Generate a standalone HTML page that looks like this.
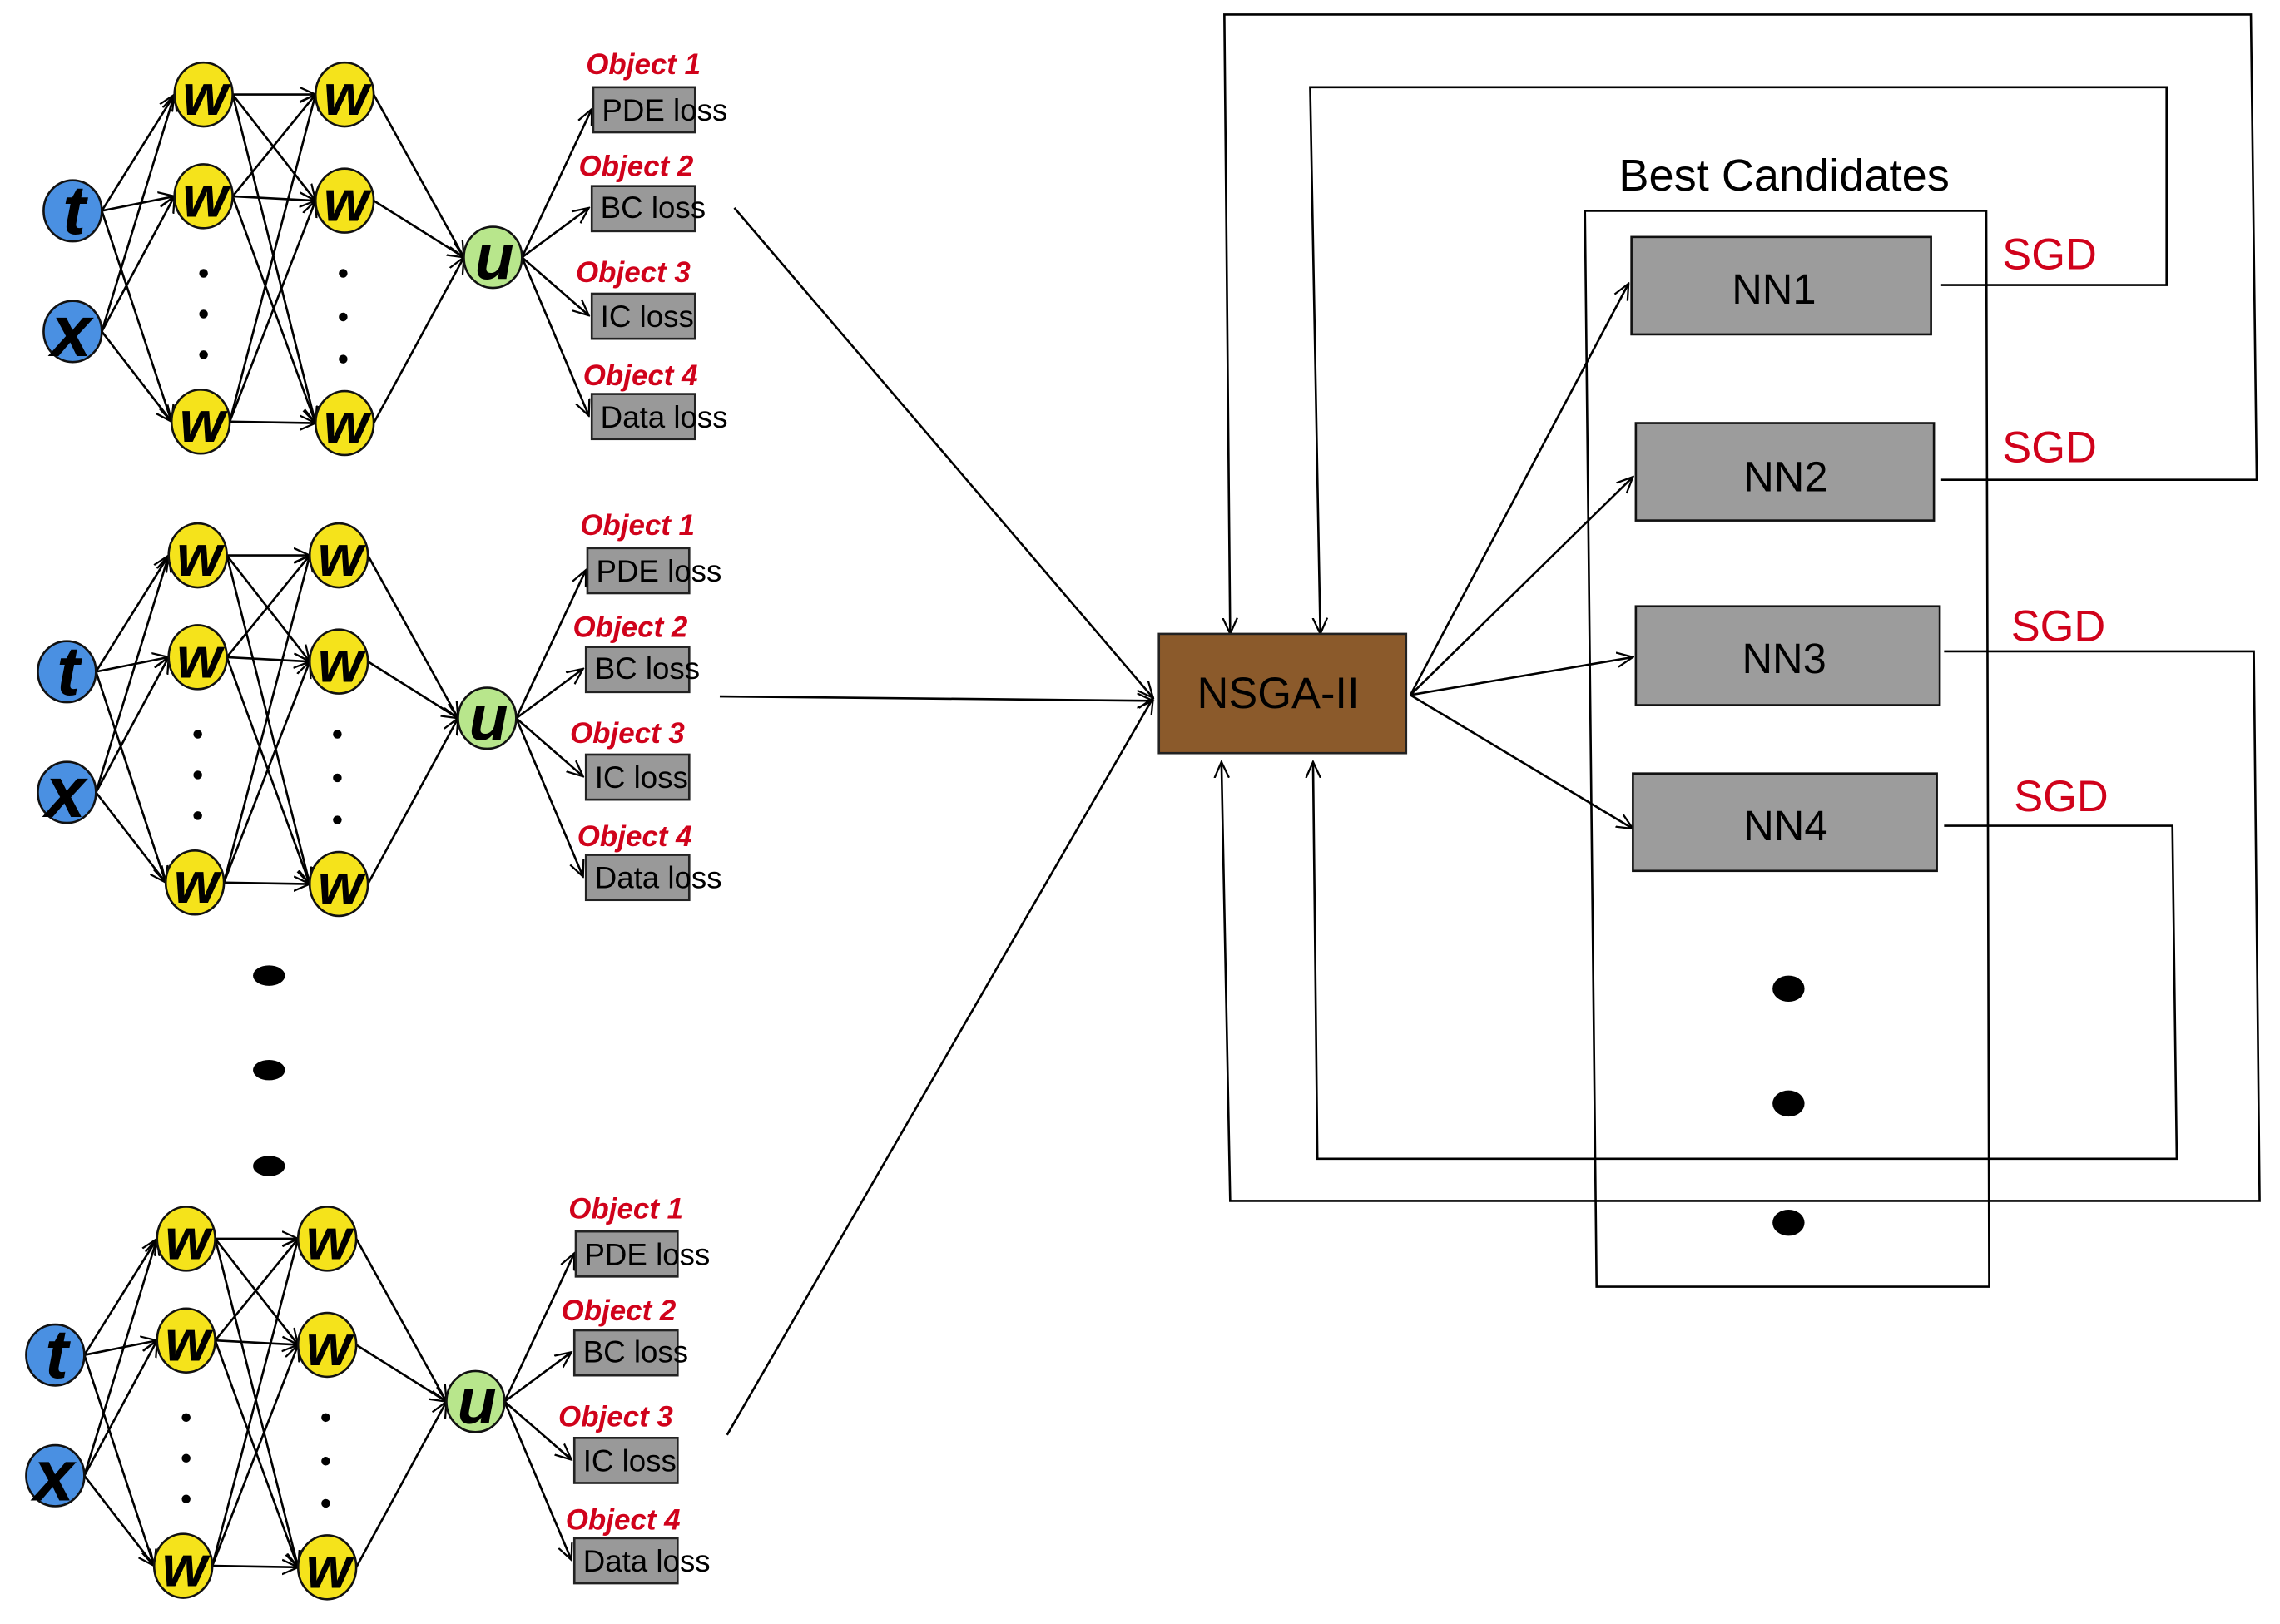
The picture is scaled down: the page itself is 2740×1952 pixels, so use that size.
<!DOCTYPE html>
<html><head><meta charset="utf-8"><style>html,body{margin:0;padding:0;background:#fff}svg{display:block}</style></head>
<body>
<svg width="2740" height="1952" viewBox="0 0 1568 1117" preserveAspectRatio="none" xmlns="http://www.w3.org/2000/svg" font-family="Liberation Sans, sans-serif">
<defs>
<marker id="a" viewBox="0 0 12 12" refX="11" refY="6" markerWidth="12" markerHeight="12" markerUnits="userSpaceOnUse" orient="auto"><path d="M0 1 L11 6 L0 11" fill="none" stroke="#000" stroke-width="1.3"/></marker>
</defs>
<g id="net1">
<g stroke="#000" stroke-width="1.5" fill="none" marker-end="url(#a)">
<path d="M70 145 L120 65"/><path d="M70 145 L120 135"/><path d="M70 145 L118 290"/>
<path d="M70 228 L120 65"/><path d="M70 228 L120 135"/><path d="M70 228 L118 290"/>
<path d="M160 65 L217 65"/><path d="M160 65 L217 138"/><path d="M160 65 L217 291"/>
<path d="M160 135 L217 65"/><path d="M160 135 L217 138"/><path d="M160 135 L217 291"/>
<path d="M158 290 L217 65"/><path d="M158 290 L217 138"/><path d="M158 290 L217 291"/>
<path d="M257 65 L319 177"/><path d="M257 138 L319 177"/><path d="M257 291 L319 177"/>
<path d="M359 177 L407 75"/><path d="M359 177 L405 143"/><path d="M359 177 L405 217"/><path d="M359 177 L405 286"/>
</g>
<g stroke="#111" stroke-width="1.5">
<ellipse cx="50" cy="145" rx="20" ry="21" fill="#4a90e2"/><ellipse cx="50" cy="228" rx="20" ry="21" fill="#4a90e2"/>
<ellipse cx="140" cy="65" rx="20" ry="22" fill="#f5e31b"/><ellipse cx="140" cy="135" rx="20" ry="22" fill="#f5e31b"/><ellipse cx="138" cy="290" rx="20" ry="22" fill="#f5e31b"/>
<ellipse cx="237" cy="65" rx="20" ry="22" fill="#f5e31b"/><ellipse cx="237" cy="138" rx="20" ry="22" fill="#f5e31b"/><ellipse cx="237" cy="291" rx="20" ry="22" fill="#f5e31b"/>
<ellipse cx="339" cy="177" rx="20" ry="21" fill="#b8e68c"/>
</g>
<g font-weight="bold" font-style="italic" text-anchor="middle" fill="#000">
<text x="51" y="161" font-size="48">t</text><text x="49" y="245" font-size="50">x</text>
<text x="141" y="79" font-size="40">w</text><text x="141" y="149" font-size="40">w</text><text x="139" y="304" font-size="40">w</text>
<text x="238" y="79" font-size="40">w</text><text x="238" y="152" font-size="40">w</text><text x="238" y="305" font-size="40">w</text>
<text x="340" y="192" font-size="44">u</text>
</g>
<g fill="#000"><circle cx="140" cy="188" r="3"/><circle cx="140" cy="216" r="3"/><circle cx="140" cy="244" r="3"/>
<circle cx="236" cy="188" r="3"/><circle cx="236" cy="218" r="3"/><circle cx="236" cy="247" r="3"/></g>
<g fill="#999" stroke="#222" stroke-width="1.5">
<rect x="408" y="60" width="70" height="31"/><rect x="407" y="128" width="71" height="31"/><rect x="407" y="202" width="71" height="31"/><rect x="407" y="271" width="71" height="31"/>
</g>
<g font-size="21" fill="#000">
<text x="414" y="83">PDE loss</text><text x="413" y="150">BC loss</text><text x="413" y="225">IC loss</text><text x="413" y="294">Data loss</text>
</g>
<g font-size="20" font-weight="bold" font-style="italic" fill="#d0021b">
<text x="403" y="51">Object 1</text><text x="398" y="121">Object 2</text><text x="396" y="194">Object 3</text><text x="401" y="265">Object 4</text>
</g>
</g>
<use href="#net1" transform="translate(-4 317)"/>
<use href="#net1" transform="translate(-12 787)"/>
<g fill="#000"><ellipse cx="185" cy="671" rx="11" ry="7"/><ellipse cx="185" cy="736" rx="11" ry="7"/><ellipse cx="185" cy="802" rx="11" ry="7"/>
<ellipse cx="1230" cy="680" rx="11" ry="9"/><ellipse cx="1230" cy="759" rx="11" ry="9"/><ellipse cx="1230" cy="841" rx="11" ry="9"/></g>
<g stroke="#000" stroke-width="1.5" fill="none" marker-end="url(#a)">
<path d="M505 143 L793 480"/><path d="M495 479 L793 482"/><path d="M500 987 L793 480"/>
<path d="M970 478 L1120 195"/><path d="M970 478 L1123 328"/><path d="M970 478 L1123 452"/><path d="M970 478 L1123 570"/>
<path d="M1335 196 L1490 196 L1490 60 L901 60 L908 436"/>
<path d="M1335 330 L1552 330 L1548 10 L842 10 L846 436"/>
<path d="M1337 448 L1550 448 L1554 826 L846 826 L840 524"/>
<path d="M1337 568 L1494 568 L1497 797 L906 797 L903 524"/>
</g>
<path d="M1090 145 L1366 145 L1368 885 L1098 885 Z" fill="none" stroke="#000" stroke-width="1.5"/>
<rect x="797" y="436" width="170" height="82" fill="#8b5a2b" stroke="#222" stroke-width="1.5"/>
<text x="879" y="487" font-size="30" text-anchor="middle">NSGA-II</text>
<g fill="#9c9c9c" stroke="#111" stroke-width="1.5">
<rect x="1122" y="163" width="206" height="67"/><rect x="1125" y="291" width="205" height="67"/><rect x="1125" y="417" width="209" height="68"/><rect x="1123" y="532" width="209" height="67"/>
</g>
<g font-size="29" text-anchor="middle" fill="#000">
<text x="1220" y="209">NN1</text><text x="1228" y="338">NN2</text><text x="1227" y="463">NN3</text><text x="1228" y="578">NN4</text>
<text x="1227" y="131" font-size="31">Best Candidates</text>
</g>
<g font-size="30" fill="#d0021b">
<text x="1377" y="185">SGD</text><text x="1377" y="318">SGD</text><text x="1383" y="441">SGD</text><text x="1385" y="558">SGD</text>
</g>
</svg>
</body></html>
